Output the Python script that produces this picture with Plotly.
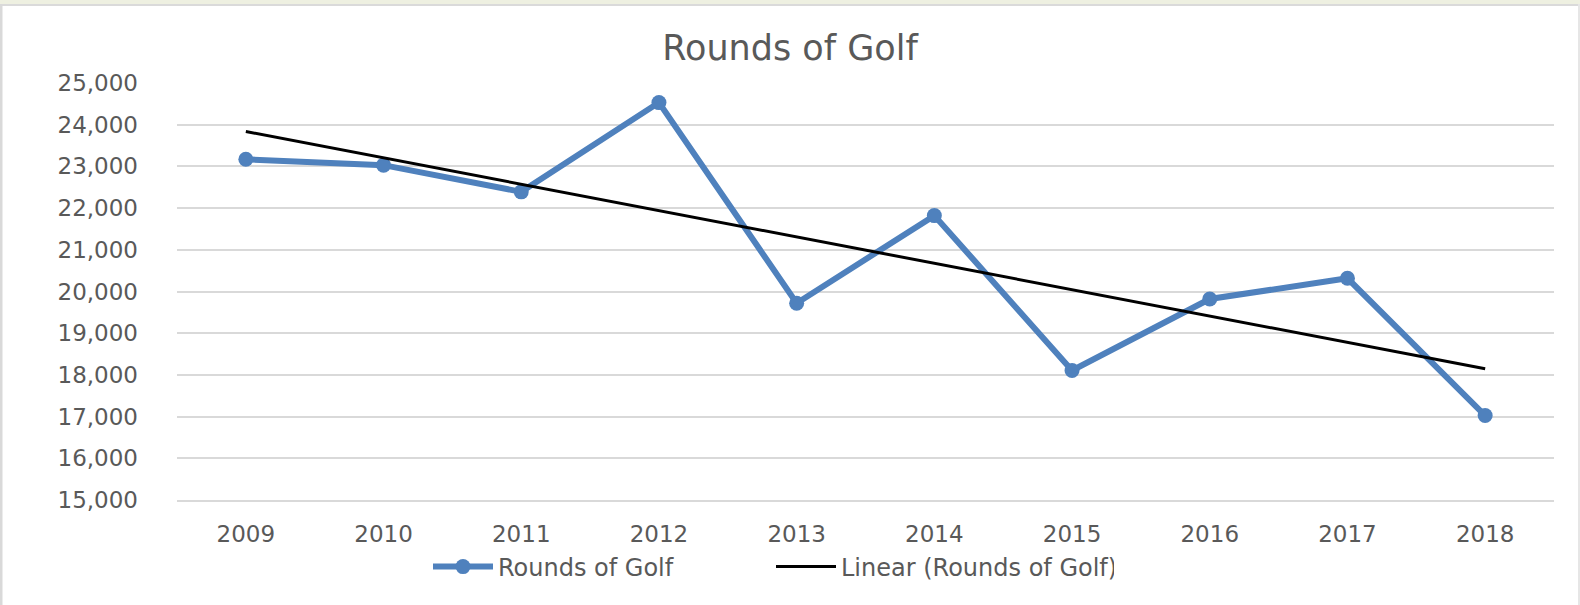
import numpy as np
import plotly.graph_objects as go

years = ["2009", "2010", "2011", "2012", "2013", "2014", "2015", "2016", "2017", "2018"]
rounds = [23170, 23030, 22390, 24530, 19720, 21820, 18105, 19820, 20317, 17025]
y_ticks = [15000, 16000, 17000, 18000, 19000, 20000, 21000, 22000, 23000, 24000, 25000]

idx = np.arange(len(years))
slope, intercept = np.polyfit(idx, rounds, 1)
trend = (slope * idx + intercept).tolist()

W, H = 1580, 605
L, R, T, B = 177, 1554, 83, 500  # plot area in pixels

def px(x):
    return (x - L) / (R - L)

def py(y):
    return (B - y) / (B - T)

TXT = "#595959"
FONT = "DejaVu Sans"

fig = go.Figure()
fig.add_trace(go.Scatter(
    x=years, y=rounds, name="Rounds of Golf", mode="lines+markers",
    line=dict(color="#4f81bd", width=6),
    marker=dict(color="#4f81bd", size=15),
))
fig.add_trace(go.Scatter(
    x=years, y=trend, name="Linear (Rounds of Golf)", mode="lines",
    line=dict(color="#000000", width=3),
))

shapes = [
    dict(type="rect", xref="paper", yref="paper", x0=px(0), x1=px(W), y0=py(0), y1=py(4),
         fillcolor="#eef0e1", line=dict(width=0), layer="below"),
    dict(type="rect", xref="paper", yref="paper", x0=px(0), x1=px(W), y0=py(4), y1=py(6),
         fillcolor="#dadada", line=dict(width=0), layer="below"),
    dict(type="rect", xref="paper", yref="paper", x0=px(0), x1=px(2.5), y0=py(4), y1=py(H),
         fillcolor="#d9d9d9", line=dict(width=0), layer="below"),
    dict(type="rect", xref="paper", yref="paper", x0=px(1578), x1=px(W), y0=py(4), y1=py(H),
         fillcolor="#e6e6e6", line=dict(width=0), layer="below"),
]

fig.update_layout(
    width=W, height=H,
    margin=dict(l=L, r=W - R, t=T, b=H - B, pad=0),
    paper_bgcolor="white", plot_bgcolor="white",
    font=dict(family=FONT, color=TXT, size=23),
    title=dict(text="Rounds of Golf", x=0.5, xref="container", xanchor="center",
               y=1 - 47.5 / H, yref="container", yanchor="middle",
               font=dict(family=FONT, size=35, color=TXT)),
    showlegend=True,
    legend=dict(orientation="h", x=px(428), xanchor="left", y=py(567), yanchor="middle",
                font=dict(family=FONT, size=24, color=TXT), itemwidth=60,
                entrywidth=268, entrywidthmode="pixels",
                bgcolor="rgba(0,0,0,0)", tracegroupgap=0),
    shapes=shapes,
)
fig.update_xaxes(type="category", range=[-0.5, 9.5], showgrid=False, showline=True,
                 linecolor="#d9d9d9", linewidth=2, ticks="", ticklabelstandoff=12,
                 tickfont=dict(family=FONT, size=23, color=TXT), zeroline=False)
fig.update_yaxes(range=[15000, 25000], tickvals=y_ticks, tickformat=",d",
                 showgrid=True, gridcolor="#d9d9d9", gridwidth=2, zeroline=False,
                 showline=False, ticks="", ticklabelstandoff=38,
                 tickfont=dict(family=FONT, size=23, color=TXT))

fig.write_html("out.html")
